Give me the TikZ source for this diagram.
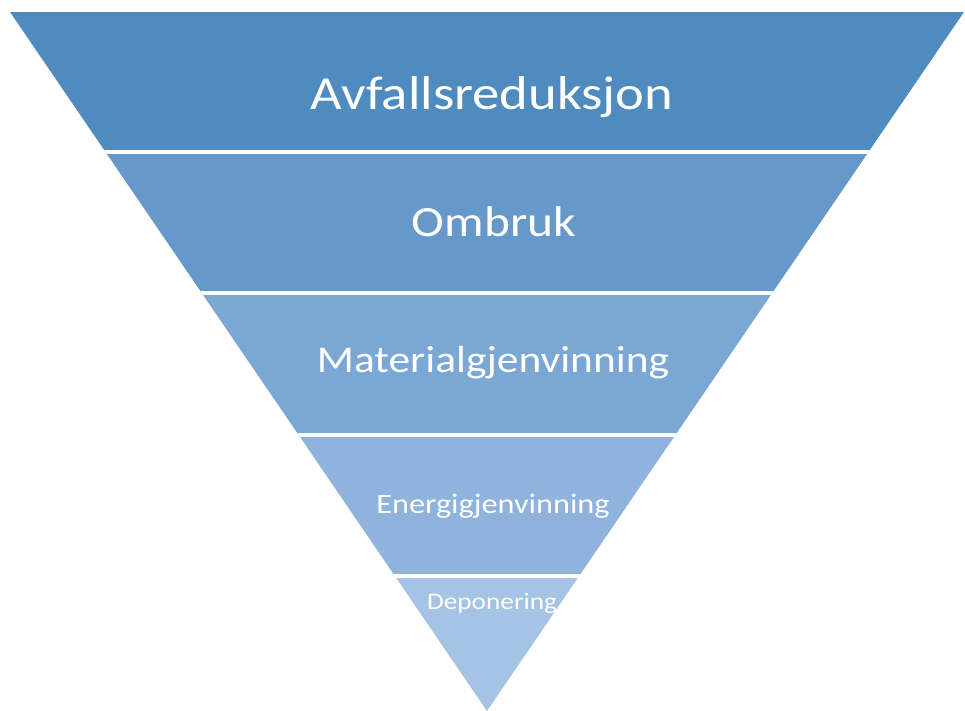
\documentclass[tikz,border=0pt]{standalone}
\usepackage{fontspec}
\setmainfont{Carlito}
\newfontfamily\lvlfont[FakeStretch=1.15]{Carlito}
\usepackage{tikz}
\usepackage{xcolor}

\definecolor{lvlA}{HTML}{4F8BBE}
\definecolor{lvlB}{HTML}{6698CA}
\definecolor{lvlC}{HTML}{7BA7D4}
\definecolor{lvlD}{HTML}{8FB3DC}
\definecolor{lvlE}{HTML}{A5C3E5}

\begin{document}
\begin{tikzpicture}[x=0.02cm,y=-0.02cm,
  lvl/.style={anchor=base,text=white,inner sep=0pt}]
\useasboundingbox (0,0) rectangle (965,711);
% trakt, fem lag
\begin{scope}
\clip (10,12)--(964,12)--(487,711)--cycle;
\fill[lvlA] (0,0) rectangle (965,152);
\fill[lvlB] (0,152) rectangle (965,293);
\fill[lvlC] (0,293) rectangle (965,435);
\fill[lvlD] (0,435) rectangle (965,576);
\fill[lvlE] (0,576) rectangle (965,711);
\foreach \y in {152,293,435,576}
  \draw[white,line width=1.8pt] (0,\y)--(965,\y);
\end{scope}
\node[lvl,font=\lvlfont\fontsize{27}{32}\selectfont] (avfall) at (492,109) {Avfallsreduksjon};
\node[lvl,font=\lvlfont\fontsize{24.5}{29}\selectfont] (ombruk) at (494,236) {Ombruk};
\node[lvl,font=\lvlfont\fontsize{21.5}{26}\selectfont] (material) at (493,372) {Materialgjenvinning};
\node[lvl,font=\lvlfont\fontsize{16}{19}\selectfont] (energi) at (493,513) {Energigjenvinning};
\node[lvl,font=\lvlfont\fontsize{13.5}{16}\selectfont] (deponi) at (492,609) {Deponering};
\end{tikzpicture}
\end{document}
